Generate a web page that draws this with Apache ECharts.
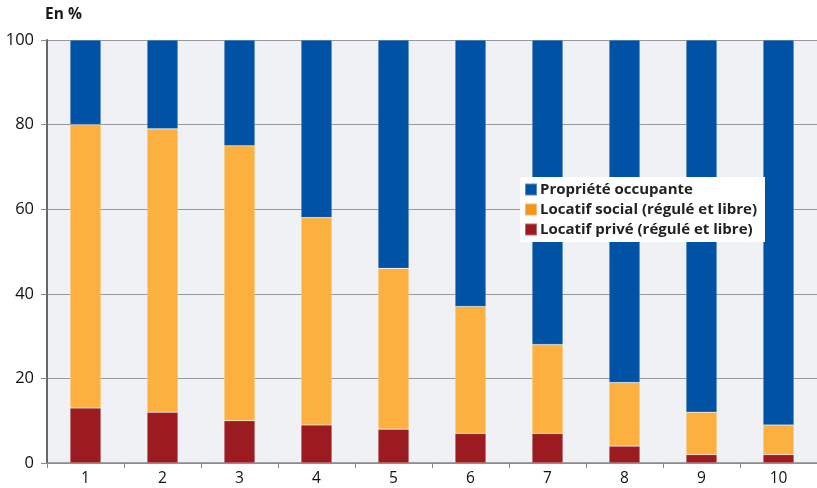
<!DOCTYPE html>
<html><head><meta charset="utf-8">
<script src="https://cdn.jsdelivr.net/npm/echarts@6/dist/echarts.min.js"></script>
<style>html,body{margin:0;padding:0;background:#fff}#c{width:817px;height:488px}</style>
</head><body><div id="c"></div>
<script>
var categories = ['1','2','3','4','5','6','7','8','9','10'];
var locatifPrive = [13, 12, 10, 9, 8, 7, 7, 4, 2, 2];
var locatifSocial = [67, 67, 65, 49, 38, 30, 21, 15, 10, 7];
var proprieteOccupante = [20, 21, 25, 42, 54, 63, 72, 81, 88, 91];
var yTicks = [0, 20, 40, 60, 80, 100];

var font = 'Open Sans';
var chart = echarts.init(document.getElementById('c'), null, {renderer: 'canvas'});
function bar(name, data, color) {
  return {name: name, type: 'bar', stack: 'total', data: data, barWidth: 31,
    itemStyle: {color: color, borderColor: 'rgba(255,255,255,0.35)', borderWidth: 0.6},
    emphasis: {disabled: true}};
}
chart.setOption({
  animation: false,
  textStyle: {fontFamily: font},
  title: {text: 'En %', left: 40, top: 2, textStyle: {fontFamily: font, fontSize: 15.5, fontWeight: 'bold', color: '#1a1a1a'}},
  grid: {left: 47, right: 0, top: 40, bottom: 25, show: true, backgroundColor: '#f0f1f4', borderWidth: 0},
  legend: {
    orient: 'vertical', left: 520, top: 177, width: 245,
    backgroundColor: '#ffffff', padding: [5, 8, 5, 4], itemGap: 5,
    itemWidth: 12, itemHeight: 12, icon: 'rect',
    data: [
      {name: 'Propriété occupante', itemStyle: {color: '#0052a4'}},
      {name: 'Locatif social (régulé et libre)', itemStyle: {color: '#f7941d'}},
      {name: 'Locatif privé (régulé et libre)', itemStyle: {color: '#9b1b20'}}
    ],
    textStyle: {fontFamily: font, fontSize: 15, fontWeight: 'bold', color: '#222', padding: [0, 0, 0, -2]}
  },
  xAxis: {
    type: 'category', data: categories,
    axisLine: {lineStyle: {color: '#888', width: 1.5}},
    axisTick: {show: true, alignWithLabel: false, length: 5, lineStyle: {color: '#888'}},
    axisLabel: {fontFamily: font, fontSize: 15.5, color: '#111', margin: 8}
  },
  yAxis: {
    type: 'value', min: 0, max: 100, interval: 20,
    axisLine: {show: true, lineStyle: {color: '#666', width: 2}},
    axisTick: {show: true, length: 6, lineStyle: {color: '#888'}},
    axisLabel: {fontFamily: font, fontSize: 16.5, color: '#111', margin: 13,
      formatter: function (v) { return yTicks.indexOf(v) >= 0 ? String(v) : ''; }},
    splitLine: {show: true, lineStyle: {color: '#999', width: 1}}
  },
  series: [
    bar('Locatif privé (régulé et libre)', locatifPrive, '#9b1b20'),
    bar('Locatif social (régulé et libre)', locatifSocial, '#fbb040'),
    bar('Propriété occupante', proprieteOccupante, '#0052a4')
  ]
});
</script></body></html>
